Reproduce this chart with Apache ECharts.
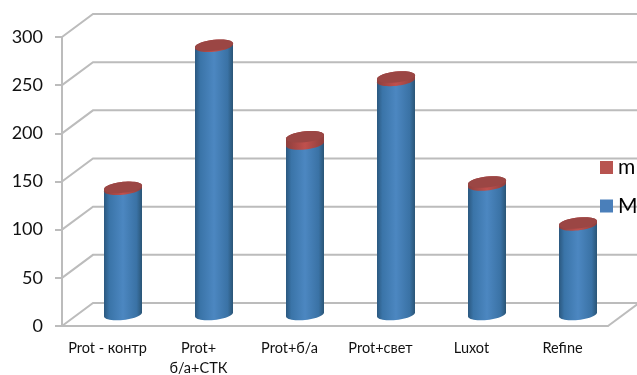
<!DOCTYPE html>
<html>
<head>
<meta charset="utf-8">
<style>html,body{margin:0;padding:0;background:#fff}#main{width:637px;height:375px}</style>
<script src="https://cdn.jsdelivr.net/npm/echarts@6/dist/echarts.min.js"></script>
</head>
<body>
<div id="main"></div>
<script>
var categories = ['Prot - контр', 'Prot+\nб/а+СТК', 'Prot+б/а', 'Prot+свет', 'Luxot', 'Refine'];
var bigM = [130, 278.5, 177, 243, 134.5, 93];
var smallM = [2, 1, 7.5, 3.5, 3, 2];
var yTicks = [0, 50, 100, 150, 200, 250, 300];

// fake 3d: the back wall sits up and right of the real grid
var depthX = 31, depthY = -23;
var rx = 19, ry = 5.5, tilt = -0.1;
var fontName = 'Lato, "Open Sans", sans-serif';
var lineColor = '#bcbcbc';

function arc(cx, cy, from, to) {
    var pts = [];
    for (var i = 0; i <= 24; i++) {
        var t = from + (to - from) * i / 24;
        pts.push([cx + rx * Math.cos(t), cy + ry * Math.sin(t) + rx * Math.cos(t) * tilt]);
    }
    return pts;
}

function gradient(stops) {
    return new echarts.graphic.LinearGradient(0, 0, 1, 0, stops);
}

var blueSide = gradient([
    {offset: 0, color: '#2b587f'}, {offset: 0.14, color: '#3a74a8'},
    {offset: 0.5, color: '#4c87c1'}, {offset: 0.86, color: '#3a72a5'},
    {offset: 1, color: '#2a5576'}
]);
var redSide = gradient([
    {offset: 0, color: '#8e3f3d'}, {offset: 0.5, color: '#c0504d'}, {offset: 1, color: '#8e3f3d'}
]);

function cylinder(sideColor, topColor, lowIdx, highIdx) {
    return function (params, api) {
        var i = api.value(0);
        var low = lowIdx === null ? 0 : api.value(lowIdx);
        var high = low + api.value(highIdx);
        var a = api.coord([i, low]);
        var b = api.coord([i, high]);
        var cx = a[0] + depthX / 2;
        var bottomY = a[1] + depthY / 2;
        var topY = b[1] + depthY / 2;
        // lower half of the bottom rim, then back along the top rim
        var body = arc(cx, bottomY, 0, Math.PI).concat(arc(cx, topY, Math.PI, 2 * Math.PI));
        var children = [{type: 'polygon', shape: {points: body}, style: {fill: sideColor}}];
        if (topColor) {
            children.push({
                type: 'polygon',
                shape: {points: arc(cx, topY, 0, 2 * Math.PI)},
                style: {fill: topColor}
            });
        }
        return {type: 'group', children: children};
    };
}

function renderWall(params, api) {
    var v = api.value(0);
    var p = api.coord([0, v]);
    var box = params.coordSys;
    var left = box.x;
    var right = box.x + box.width;
    var children = [{
        type: 'polyline',
        shape: {points: [[left, p[1]], [left + depthX, p[1] + depthY], [right + depthX, p[1] + depthY]]},
        style: {stroke: lineColor, lineWidth: 2, fill: null}
    }];
    if (v === 0) {
        children.push({
            type: 'line',
            shape: {x1: right, y1: p[1], x2: right + depthX, y2: p[1] + depthY},
            style: {stroke: lineColor, lineWidth: 2}
        });
    }
    return {type: 'group', children: children};
}

var rows = categories.map(function (c, i) { return [i, bigM[i], smallM[i]]; });

var option = {
    animation: false,
    backgroundColor: '#fff',
    grid: {left: 62, right: 29, top: 37, height: 289, outerBoundsMode: 'none'},
    legend: {
        orient: 'vertical',
        left: 600,
        top: 157,
        padding: 0,
        itemWidth: 13,
        itemHeight: 13,
        itemGap: 17.5,
        selectedMode: false,
        textStyle: {fontFamily: fontName, fontSize: 21, color: '#000'},
        data: [
            {name: 'm', icon: 'rect', itemStyle: {color: '#b85450'}},
            {name: 'M', icon: 'rect', itemStyle: {color: '#4a7fba'}}
        ]
    },
    xAxis: {
        type: 'category',
        data: categories,
        axisLine: {lineStyle: {color: lineColor, width: 2}},
        axisTick: {length: 5, lineStyle: {color: lineColor, width: 2}},
        axisLabel: {fontFamily: fontName, fontSize: 14.5, color: '#111', margin: 12, lineHeight: 20, interval: 0}
    },
    yAxis: {
        type: 'value',
        min: 0,
        max: 300,
        interval: 50,
        splitLine: {show: false},
        axisLine: {show: true, lineStyle: {color: lineColor, width: 2}},
        axisTick: {show: true, length: 7, lineStyle: {color: lineColor, width: 2}},
        axisLabel: {fontFamily: fontName, fontSize: 18, color: '#111', margin: 19, padding: [3, 0, 0, 0]}
    },
    series: [
        {
            name: 'wall',
            type: 'custom',
            coordinateSystem: 'cartesian2d',
            clip: false,
            silent: true,
            z: 1,
            renderItem: renderWall,
            encode: {y: 0},
            data: yTicks.map(function (v) { return [v]; })
        },
        {
            name: 'M',
            type: 'custom',
            coordinateSystem: 'cartesian2d',
            clip: false,
            z: 2,
            renderItem: cylinder(blueSide, null, null, 1),
            encode: {x: 0, y: 1},
            itemStyle: {color: '#4a7fba'},
            data: rows
        },
        {
            name: 'm',
            type: 'custom',
            coordinateSystem: 'cartesian2d',
            clip: false,
            z: 3,
            renderItem: cylinder(redSide, '#9b4644', 1, 2),
            encode: {x: 0, y: 2},
            itemStyle: {color: '#b85450'},
            data: rows
        }
    ]
};

var myChart = echarts.init(document.getElementById('main'));
myChart.setOption(option);
</script>
</body>
</html>
